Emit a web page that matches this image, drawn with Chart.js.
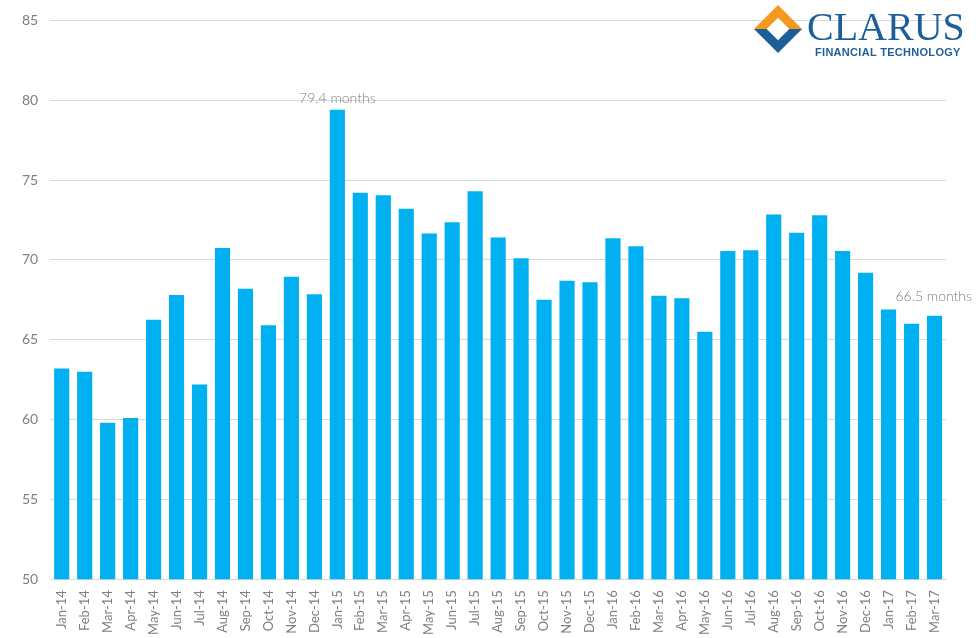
<!DOCTYPE html>
<html><head><meta charset="utf-8">
<script src="https://cdn.jsdelivr.net/npm/chart.js@4/dist/chart.umd.min.js"></script>
<style>
body{margin:0;background:#fff;font-family:Lato,sans-serif}
#wrap{position:relative;width:976px;height:638px}
#logo{position:absolute;left:755px;top:2px;width:220px;height:60px}
#dia{position:absolute;left:6px;top:10px;width:34px;height:34px;transform:rotate(45deg);background:linear-gradient(135deg,#f39a1e 50%,#1f5f99 50%);}
#dia2{position:absolute;left:15px;top:19px;width:16px;height:16px;transform:rotate(45deg);background:#fff}
#t1{position:absolute;left:52px;top:4px;font-family:"Liberation Serif",serif;font-size:40px;color:#1f5f99;letter-spacing:0px;line-height:42px;white-space:nowrap}
#t2{position:absolute;left:60px;top:44px;font-family:"Liberation Sans",sans-serif;font-weight:bold;font-size:11px;color:#1f5f99;letter-spacing:.3px;white-space:nowrap}
</style></head><body>
<div id="wrap"><canvas id="c" width="976" height="638"></canvas>
<div id="logo"><div id="dia"></div><div id="dia2"></div><div id="t1">CLARUS</div><div id="t2">FINANCIAL TECHNOLOGY</div></div></div>
<script>
const categories=["Jan-14","Feb-14","Mar-14","Apr-14","May-14","Jun-14","Jul-14","Aug-14","Sep-14","Oct-14","Nov-14","Dec-14","Jan-15","Feb-15","Mar-15","Apr-15","May-15","Jun-15","Jul-15","Aug-15","Sep-15","Oct-15","Nov-15","Dec-15","Jan-16","Feb-16","Mar-16","Apr-16","May-16","Jun-16","Jul-16","Aug-16","Sep-16","Oct-16","Nov-16","Dec-16","Jan-17","Feb-17","Mar-17"];
const months=[63.2,63.0,59.8,60.1,66.25,67.8,62.2,70.75,68.2,65.9,68.95,67.85,79.4,74.2,74.05,73.2,71.65,72.35,74.3,71.4,70.1,67.5,68.7,68.6,71.35,70.85,67.75,67.6,65.5,70.55,70.6,72.85,71.7,72.8,70.55,69.2,66.9,66.0,66.5];
const annotations=[{index:12,text:"79.4 months"},{index:38,text:"66.5 months"}];
const annot={id:'annot',afterDatasetsDraw(ch){const ctx=ch.ctx,m=ch.getDatasetMeta(0);ctx.save();ctx.font='300 14px Lato';ctx.fillStyle='#7f7f7f';ctx.textBaseline='bottom';
annotations.forEach(a=>{const b=m.data[a.index];if(a.index===38){ctx.textAlign='right';ctx.fillText(a.text,ch.width-4,b.y-12);}else{ctx.textAlign='center';ctx.fillText(a.text,b.x,b.y-4);}});ctx.restore();}};
new Chart(document.getElementById('c'),{type:'bar',data:{labels:categories,datasets:[{data:months,backgroundColor:'#00b0f0',categoryPercentage:1,barPercentage:0.66}]},
options:{responsive:false,animation:false,layout:{padding:{top:8,right:30,left:10}},plugins:{legend:{display:false},tooltip:{enabled:false}},
scales:{y:{min:50,max:85,ticks:{stepSize:5,color:'#7f7f7f',padding:12,font:{family:'Lato',size:14}},grid:{color:'#d9d9d9',drawTicks:false},border:{display:false}},
x:{grid:{display:false},ticks:{color:'#7f7f7f',font:{family:'Lato',size:13},minRotation:90,maxRotation:90,autoSkip:false},border:{color:'#d9d9d9'}}}},plugins:[annot]});
</script></body></html>
